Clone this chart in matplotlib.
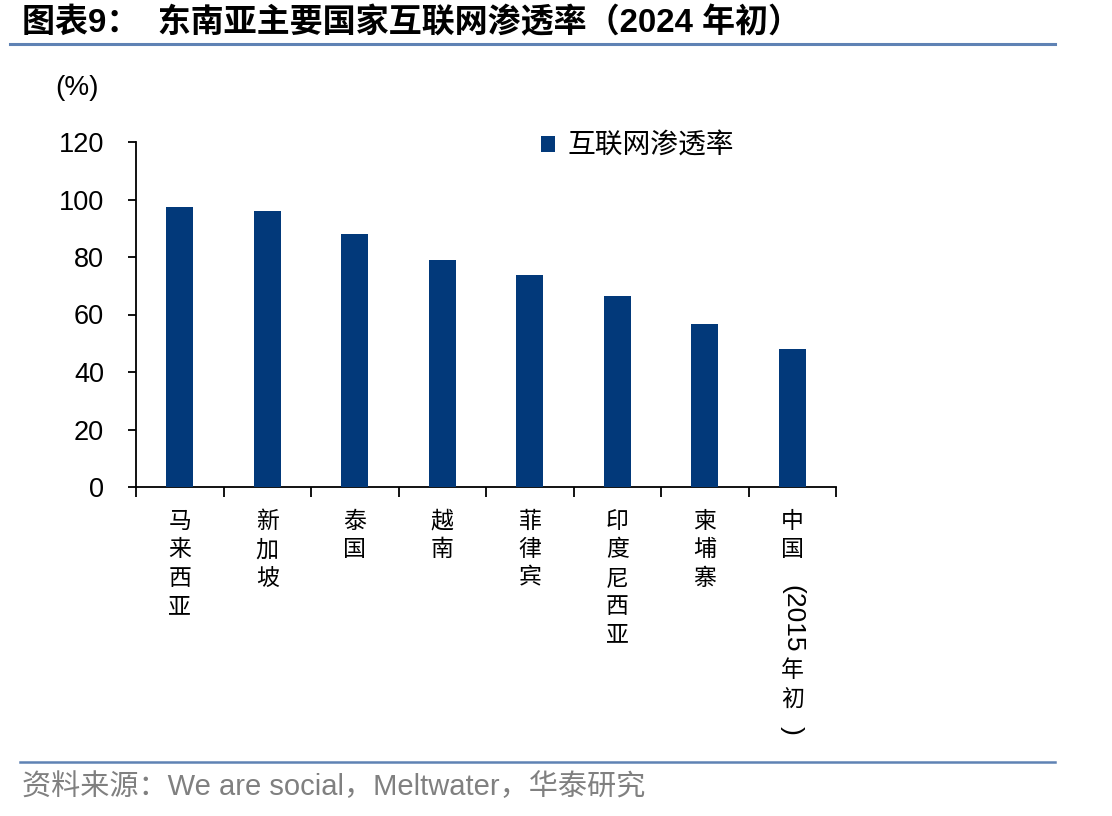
import matplotlib
matplotlib.use("Agg")
import matplotlib.pyplot as plt
from matplotlib.lines import Line2D

plt.rcParams['font.family'] = ['Liberation Sans', 'Noto Sans CJK SC', 'DejaVu Sans']

categories = ["马来西亚", "新加坡", "泰国", "越南", "菲律宾", "印度尼西亚", "柬埔寨", "中国"]
china_year = "(2015"
china_tail = "年初"
values = [97.4, 96.0, 88.0, 79.0, 73.6, 66.4, 56.6, 47.9]
series_name = "互联网渗透率"
yticks = [0, 20, 40, 60, 80, 100, 120]
title = "图表9：  东南亚主要国家互联网渗透率（2024 年初）"
source = "资料来源：We are social，Meltwater，华泰研究"

BAR = "#02397A"
LINE = "#5F82B4"
CJK = ['Noto Sans CJK SC', 'DejaVu Sans']
LAT = ['Liberation Sans', 'Noto Sans CJK SC']
PX = 0.72  # points per pixel at 100 dpi

W, H = 1112, 816
fig = plt.figure(figsize=(W / 100, H / 100), dpi=100)
ax = fig.add_axes([136 / W, 1 - 487 / H, 700 / W, 345 / H])

x = list(range(len(categories)))
ax.bar(x, values, width=0.31, color=BAR, label=series_name, zorder=3)

ax.set_xlim(-0.5, len(categories) - 0.5)
ax.set_ylim(0, 120)
ax.set_yticks(yticks)
ax.set_yticklabels([str(v) for v in yticks], fontsize=19.5, family='Liberation Sans')
ax.tick_params(axis='y', direction='out', length=6, width=1.3, pad=17)

ax.set_xticks(x)
ax.set_xticklabels(["\n".join(c) for c in categories], fontsize=16.5, family=CJK,
                   linespacing=1.30, va='top')
ax.tick_params(axis='x', which='major', length=0, pad=16.5)
ax.set_xticks([i - 0.5 for i in range(len(categories) + 1)], minor=True)
ax.tick_params(axis='x', which='minor', direction='out', length=7, width=1.3)

for s in ['top', 'right']:
    ax.spines[s].set_visible(False)
for s in ['left', 'bottom']:
    ax.spines[s].set_linewidth(1.3)
    ax.spines[s].set_color('black')

# remaining vertical text of the China label
ci = len(categories) - 1
def vtext(s, px_below, rot, fs, fam):
    ax.annotate(s, xy=(ci, 0), xycoords=('data', 'axes fraction'),
                xytext=(0, -px_below * PX), textcoords='offset points', rotation=rot,
                ha='center', va='center', fontsize=fs, family=fam,
                linespacing=1.30)

vtext(china_year, 132, -90, 19, LAT)
vtext("\n".join(china_tail), 198, 0, 16.5, CJK)
vtext(")", 243, -90, 19, LAT)

ax.legend(loc='center left', bbox_to_anchor=(541 / W, 1 - 146 / H),
          bbox_transform=fig.transFigure, frameon=False,
          prop={'family': CJK, 'size': 20}, handlelength=0.5, handleheight=0.5,
          handletextpad=0.45, borderpad=0, borderaxespad=0)

fig.text(55 / W, 1 - 88 / H, "(%)", fontsize=20, family='Liberation Sans', va='center', ha='left')

fig.text(22 / W, 1 - 23 / H, title, fontsize=23.8, fontweight='bold',
         family=LAT, va='center', ha='left')
fig.add_artist(Line2D([10 / W, 1055 / W], [1 - 44 / H, 1 - 44 / H], color=LINE, lw=2.2,
                      transform=fig.transFigure))
fig.add_artist(Line2D([20 / W, 1055 / W], [1 - 762 / H, 1 - 762 / H], color=LINE, lw=1.8,
                      transform=fig.transFigure))
fig.text(22 / W, 1 - 787 / H, source, fontsize=21, color='#808080',
         family=LAT, va='center', ha='left')

fig.savefig("out.png", dpi=100)
